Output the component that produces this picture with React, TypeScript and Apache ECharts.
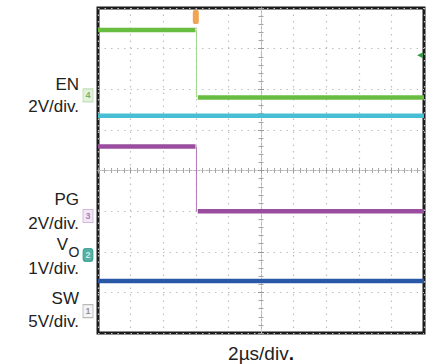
import React, { useEffect, useRef } from "react";
import * as echarts from "echarts";

// Time axis in divisions (10 div across, 2 µs/div), voltage in divisions (8 div tall)
const xRange = [-5, 5];
const yRange = [-4, 4];
const edgeTime = -1.98;

// Channel traces (levels in divisions)
const enLevels = [3.46, 1.8]; // EN: high before edge, low after
const pgLevels = [0.59, -1.0]; // PG: high before edge, low after
const cyanLevel = [1.35];
const swLevel = [-2.72];

// Channel reference markers at left edge
const markerNames = ["4", "3", "2", "1"];
const markerLevels = [1.85, -1.12, -2.08, -3.46];

const triggerLevel = 2.84;

const FONT = "'Liberation Sans', Arial, Helvetica, sans-serif";

function mkX(inside: boolean) {
  return {
    type: "value",
    min: xRange[0],
    max: xRange[1],
    interval: 1,
    position: "bottom",
    axisLabel: { show: false },
    axisLine: { show: true, onZero: true, lineStyle: { color: "#b8b8b8", width: 1, type: [2, 2] } },
    axisTick: { show: true, inside, length: 3, lineStyle: { color: "#9a9a9a" } },
    minorTick: { show: true, splitNumber: 5, length: 2.5, lineStyle: { color: "#a6a6a6" } },
    splitLine: { show: inside, lineStyle: { color: "#bfbfbf", width: 1.2, type: [1.5, 5] } },
  };
}
function mkY(inside: boolean) {
  return {
    type: "value",
    min: yRange[0],
    max: yRange[1],
    interval: 1,
    position: "left",
    axisLabel: { show: false },
    axisLine: { show: true, onZero: true, lineStyle: { color: "#b8b8b8", width: 1, type: [2, 2] } },
    axisTick: { show: true, inside, length: 3, lineStyle: { color: "#9a9a9a" } },
    minorTick: { show: true, splitNumber: 5, length: 2.5, lineStyle: { color: "#a6a6a6" } },
    splitLine: { show: inside, lineStyle: { color: "#bfbfbf", width: 1.2, type: [1.5, 5] } },
  };
}

function flat(name: string, pts: number[][], color: string) {
  return {
    type: "line",
    name,
    data: pts,
    symbol: "none",
    silent: true,
    lineStyle: { color, width: 4.5 },
    z: 3,
  };
}
function edge(name: string, pts: number[][], color: string) {
  return {
    type: "line",
    name,
    data: pts,
    symbol: "none",
    silent: true,
    lineStyle: { color, width: 1 },
    z: 2,
  };
}

function stepSeries(name: string, levels: number[], color: string, edgeColor: string) {
  return [
    flat(name, [[xRange[0], levels[0]], [edgeTime - 0.03, levels[0]]], color),
    edge(name + "-edge", [[edgeTime, levels[0]], [edgeTime, levels[1]]], edgeColor),
    flat(name + "-low", [[edgeTime + 0.04, levels[1]], [xRange[1], levels[1]]], color),
  ];
}

const markerStyles = [
  { bg: "#dcefd5", border: "#b4d8a6", text: "#5aa24a", symbol: "rect" },
  { bg: "#efe2f3", border: "#c9a6d5", text: "#9b63a8", symbol: "rect" },
  { bg: "#2a9b8c", border: "#2a9b8c", text: "#e8fff9", symbol: "roundRect" },
  { bg: "#f2f2f2", border: "#a9a9a9", text: "#777777", symbol: "rect" },
];

export default function App() {
  const ref = useRef<HTMLDivElement>(null);
  useEffect(() => {
    if (!ref.current) return;
    const chart = echarts.init(ref.current, null, { renderer: "svg" });

    const greens = stepSeries("EN", enLevels, "#68bd40", "#a3d78e");
    (greens[0] as any).markPoint = {
      silent: true,
      data: [
        {
          coord: [edgeTime - 0.02, yRange[1]],
          symbol: "roundRect",
          symbolSize: [6, 14],
          symbolOffset: [0, 9],
          itemStyle: { color: "#f2a453" },
          label: { show: false },
        },
        {
          coord: [xRange[1], triggerLevel],
          symbol: "triangle",
          symbolRotate: 90,
          symbolSize: [6, 6],
          symbolOffset: [-4, 0],
          itemStyle: { color: "#3c9a4c" },
          label: { show: false },
        },
      ],
    };

    const option: any = {
      animation: false,
      backgroundColor: "#ffffff",
      grid: {
        left: 98,
        top: 8,
        width: 326,
        height: 325,
        show: true,
        borderColor: "#1b1b1b",
        borderWidth: 3,
        backgroundColor: "transparent",
      },
      xAxis: [mkX(true), mkX(false)],
      yAxis: [mkY(true), mkY(false)],
      series: [
        ...greens,
        flat("Cyan", [[xRange[0], cyanLevel[0]], [xRange[1], cyanLevel[0]]], "#48bed5"),
        ...stepSeries("PG", pgLevels, "#9a4c9e", "#b07ab5"),
        flat("SW", [[xRange[0], swLevel[0]], [xRange[1], swLevel[0]]], "#2b58a6"),
        {
          type: "scatter",
          clip: false,
          silent: true,
          z: 5,
          data: markerNames.map((n, i) => ({
            value: [xRange[0], markerLevels[i]],
            name: n,
            symbol: markerStyles[i].symbol,
            itemStyle: {
              color: markerStyles[i].bg,
              borderColor: markerStyles[i].border,
              borderWidth: 1,
            },
            label: { color: markerStyles[i].text },
          })),
          symbolSize: [10, 13],
          symbolOffset: [-10, 0],
          label: {
            show: true,
            position: "inside",
            formatter: (p: any) => p.name,
            fontFamily: FONT,
            fontSize: 9,
            fontWeight: "bold",
          },
        },
      ],
      graphic: [
        { type: "text", x: 79, y: 84, style: { text: "EN", align: "right", verticalAlign: "middle", font: `17px ${FONT}`, fill: "#222" } },
        { type: "text", x: 79, y: 106, style: { text: "2V/div.", align: "right", verticalAlign: "middle", font: `17px ${FONT}`, fill: "#222" } },
        { type: "text", x: 79, y: 199, style: { text: "PG", align: "right", verticalAlign: "middle", font: `17px ${FONT}`, fill: "#222" } },
        { type: "text", x: 79, y: 223, style: { text: "2V/div.", align: "right", verticalAlign: "middle", font: `17px ${FONT}`, fill: "#222" } },
        { type: "text", x: 68, y: 244, style: { text: "V", align: "right", verticalAlign: "middle", font: `17px ${FONT}`, fill: "#222" } },
        { type: "text", x: 79.5, y: 252, style: { text: "O", align: "right", verticalAlign: "middle", font: `14px ${FONT}`, fill: "#222" } },
        { type: "text", x: 79, y: 268, style: { text: "1V/div.", align: "right", verticalAlign: "middle", font: `17px ${FONT}`, fill: "#222" } },
        { type: "text", x: 79, y: 298, style: { text: "SW", align: "right", verticalAlign: "middle", font: `17px ${FONT}`, fill: "#222" } },
        { type: "text", x: 79, y: 321, style: { text: "5V/div.", align: "right", verticalAlign: "middle", font: `17px ${FONT}`, fill: "#222" } },
        {
          type: "text",
          x: 261,
          y: 353,
          style: {
            text: "{a|2µs/div}{b|.}",
            align: "center",
            verticalAlign: "middle",
            rich: {
              a: { fontFamily: FONT, fontSize: 19, fill: "#222", color: "#222" },
              b: { fontFamily: FONT, fontSize: 19, fontWeight: "bold", fill: "#111", color: "#111" },
            },
          },
        },
      ],
    };
    chart.setOption(option);
    return () => chart.dispose();
  }, []);
  return (
    <div
      ref={ref}
      style={{ position: "absolute", left: 0, top: 0, width: 426, height: 364, background: "#fff" }}
    />
  );
}
